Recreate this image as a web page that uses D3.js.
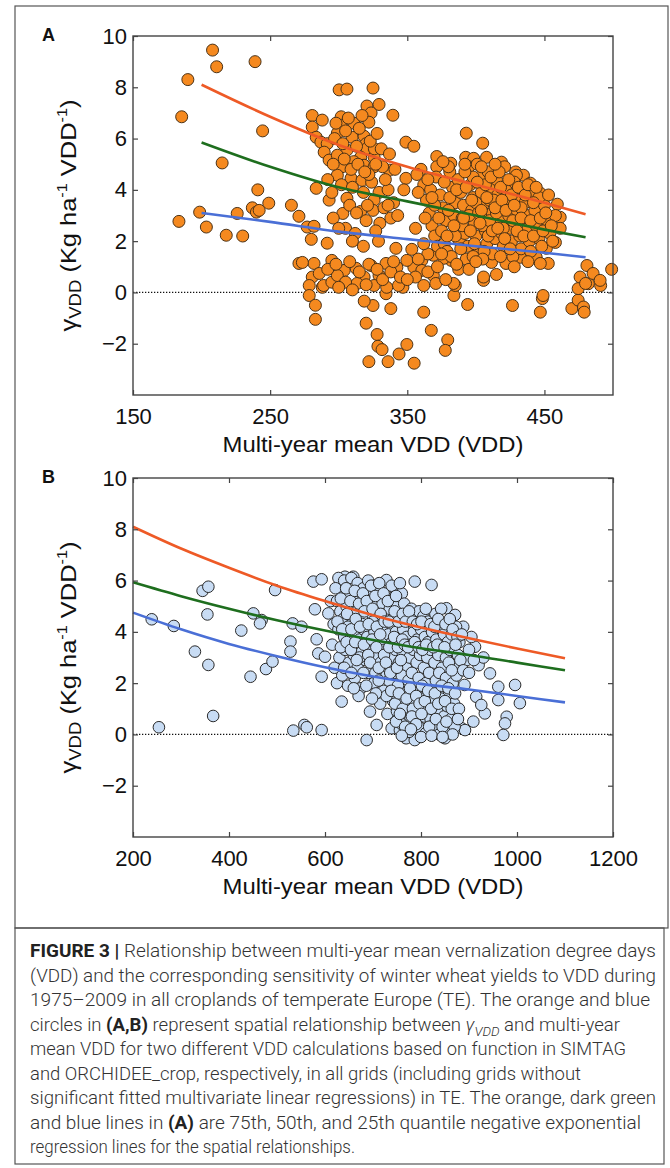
<!DOCTYPE html>
<html><head><meta charset="utf-8">
<script src="https://cdn.jsdelivr.net/npm/d3@7"></script>
<style>body{margin:0;background:#fff}svg{display:block}</style>
</head><body>
<svg id="c" width="670" height="1168"></svg>
<script>
// ---------- DATA ----------
const aXTicks = [150, 250, 350, 450];
const bXTicks = [200, 400, 600, 800, 1000, 1200];
const yTicks = [-2, 0, 2, 4, 6, 8, 10];

// Panel A: [multi-year mean VDD, gamma_VDD]  (SIMTAG, orange circles)
const aPoints = [
[208,9.45],[211,8.8],[190,8.3],[239,9.0],[185.5,6.85],[244.5,6.3],[215,5.05],[183.5,2.77],[198.6,3.13],[203.5,2.55],[218,2.23],[226,3.08],[230,2.2],[241,4.0],[237,3.3],[240,3.13],[242,3.2],[249,3.48],[265.5,3.4],[271,2.97],[277,2.55],[282,2.58],[280,2.07],[291.6,1.92],[283.6,4.06],[280.7,6.9],[288,6.72],[280.7,6.45],[283.6,6.05],[287,5.86],[291.6,5.8],[289.4,5.47],[293,5.16],[271,1.13],[282,1.13],[273.5,1.17],[280.7,0.6],[285.8,0.74],[278.5,0.27],[288,0.2],[278.5,-0.12],[295,1.25],
[283,-0.5],[283,-1.05],[320,-1.2],[328,-1.64],[328.6,-2.1],[331.6,-2.23],[322,-2.7],[336,-2.7],[349.7,-2.03],[344,-2.4],[355,-2.76],[325,-0.51],[338,-0.63],[318.6,-0.34],[334.5,-0.05],[362,-0.77],[367.5,-1.48],[379.5,-1.85],[377.7,-2.26],[384,-0.12],[394,-0.47],[426.7,-0.51],[448.5,-0.24],[447,-0.77],[470,-0.63],[474.6,-0.3],[478.5,-0.57],[479,-0.77],[474.6,0.15],[482,0.34],[491,0.27],[405.6,0.47],[346.8,0.2],[343.6,0.27],[362,0.27],[289,0.27],[295,0.4],[385,0.27],
[300.3,7.9],[306,7.93],[325,7.97],[320.6,7.27],[329.4,7.33],[323.6,7.0],[339.5,6.91],[301.8,6.85],[311,6.6],[301.8,6.52],[322,6.64],[299,6.21],[309.8,6.05],[318.5,6.09],[320,5.8],[320.6,5.61],[306,5.55],[299,5.35],[316,5.27],[325.8,5.27],[349,5.86],[354.8,5.7],[337,4.77],[302.5,4.9],[311,5.1],[318.5,4.96],[325.8,4.9],[299,4.57],[309,4.45],[317,4.37],[324,4.3],[349,4.45],[347.5,4.0],[329.4,3.9],[306,3.67],[325.8,3.6],[303,3.08],[316,3.16],[325,3.2],[330,2.7],[393,6.21],[405,5.82],[371.5,5.3],[381.7,5.04],[418.7,5.08],[371.5,4.9],[392.6,5.27],[398.4,5.23],[407.8,5.27],[429,4.7],[434.7,4.57],[439.8,4.26],[447,3.87],[459.4,3.44],[461.5,2.93],[461.5,2.5],[458,1.95],[451.4,1.72],[452.8,1.13],[444,1.37],[447,1.13],[432.5,1.37],[422,1.13],[411.4,1.17],[405.6,0.6],[387.5,0.9],[383.8,0.35],[382,1.25],[376.6,1.33],[369,1.45],[360.6,1.25],[354.8,0.98],[360.6,0.86],[356,0.6],[369,0.66],[370.8,0.35],[349.7,1.25],[341.7,1.72],[353.3,1.68],[342.4,0.98],[334.5,1.13],[329.4,0.66],[323.6,1.05],[318.5,0.6],[312.7,0.94],[304,0.86],[299,0.66],[313.4,0.35],[325.8,0.27],[335,0.2],[481,1.05],[485.5,0.74],[490.6,0.47],[499,0.9],[476,0.6],[480,0.35],[449,-0.12],[429.6,4.57],
[360,4.8],[362,4.2],[364,3.6],[366,3.1],[368,2.6],[370,2.2],[372,1.8],[365,1.5],[363,2.9],[367,4.0],[371,4.5],[374,3.8],[376,3.3],[378,2.8],[375,2.4],[377,1.9],[379,1.6],[381,4.7],[383,4.1],[385,3.5],[384,3.0],[386,2.5],[388,2.0],[382,1.4],[387,4.4],[389,3.9],[391,3.4],[390,2.9],[392,2.3],[394,1.8],[393,1.3],[395,4.9],[396,4.2],[398,3.7],[397,3.2],[399,2.7],[400,2.2],[402,1.6],[401,5.0],[403,4.5],[404,3.9],[405,3.4],[406,2.9],[407,2.4],[408,1.9],[409,4.7],[411,4.1],[410,3.6],[412,3.1],[413,2.6],[414,2.1],[412,1.5],[415,4.4],[416,3.8],[417,3.3],[418,2.8],[419,2.3],[420,1.8],[421,4.9],[422,4.0],[423,3.5],[424,3.0],[425,2.5],[426,2.0],[427,1.4],[428,4.3],[429,3.7],[430,3.2],[431,2.7],[432,2.2],[433,1.7],[434,4.0],[436,3.5],[437,3.0],[438,2.5],[439,2.0],[440,1.6],[441,3.8],[443,3.2],[444,2.6],[446,2.1],[448,1.8],[450,3.4],[452,2.8],[454,2.3],[456,2.0],[458,3.0],[446,3.7],[380,3.2],[385,2.2],[395,3.0],[400,3.5],[405,2.6],[410,2.8],[415,3.1],[420,2.5],[390,2.6],[398,4.5],[407,4.2],[377,4.3],[392,4.7],[402,3.1],[413,3.6],[418,4.1],[426,3.8],[433,3.3],[370,3.4],[358,3.9],[356,2.5],[362,1.9],[357,4.6],
[365,4.4],[368,3.7],[373,2.9],[375,1.5],[379,2.2],[381,3.7],[384,2.6],[386,4.0],[389,1.7],[391,2.9],[393,4.1],[396,2.4],[397,3.6],[399,1.9],[401,4.3],[403,2.7],[404,3.2],[406,1.6],[408,3.7],[409,2.2],[411,4.5],[412,2.4],[414,3.3],[416,2.5],[417,4.7],[419,3.6],[421,2.1],[422,3.2],[424,4.4],[425,1.7],[427,2.8],[428,3.4],[430,2.4],[431,4.1],[433,2.9],[435,2.2],[436,3.8],[438,4.2],[440,2.8],[442,2.2],[442,3.5],[444,4.1],[447,2.9],[449,2.4],[451,3.1],[453,3.8],[455,2.6],[386,1.1],[398,1.4],[405,1.3],[418,1.4],[428,1.0],[438,1.2],[392,5.0],[404,4.9],[414,5.0],[380,4.9],[376,5.1],
[293,3.6],[296,2.9],[305,2.5],[312,2.3],[320,2.8],[327,2.4],[333,3.3],[338,2.9],[302,4.2],[318,3.9],[322,4.6],[336,4.0],[340,3.5],[297,6.0],[305,6.3],[313,5.7],[315,6.4],[326,5.6],[332,4.9],[296,5.0],[304,5.2],[309,4.8],
[292,4.4],[295,3.9],[298,6.6],[303,5.8],[307,6.8],[310,4.1],[314,5.0],[317,6.9],[319,4.7],[323,5.9],[327,5.0],[328,6.2],[331,5.6],[334,4.4],[337,5.4],[341,4.8],[308,3.4],[313,3.1],[321,3.4],[336,3.4],[343,3.0],[300,2.5],[310,2.0],[318,1.8],[329,2.0],
[292,0.9],[298,1.1],[305,0.4],[308,1.2],[315,0.8],[320,0.3],[322,1.1],[328,0.9],[332,0.5],[338,0.8],[340,1.2],[345,0.6],[300,0.2],[310,0.1],[350,0.5],[358,1.3],[365,0.8],[372,1.0],[378,0.5],[395,0.9],[400,1.2],[415,0.7]
];

// Panel A quantile regression lines, read at VDD = 200..480
const aCurveX  = [200, 250, 300, 350, 400, 450, 480];
const aQ75 = [8.1, 6.85, 5.75, 4.9, 4.2, 3.5, 3.05];
const aQ50 = [5.85, 4.9, 4.1, 3.55, 3.0, 2.45, 2.15];
const aQ25 = [3.1, 2.75, 2.37, 2.08, 1.8, 1.55, 1.37];

// Panel B: [multi-year mean VDD, gamma_VDD]  (ORCHIDEE_crop, blue circles)
const bPoints = [
[239,4.49],[285,4.23],[329,3.23],[357,2.71],[345,5.6],[357,5.76],[355,4.68],[367,0.72],[254,0.28],[425.6,4.05],[444.8,2.25],[450.7,4.72],[468,4.46],[464.6,4.33],[477,2.55],[490.6,2.84],[496,5.63],[532.6,4.33],[551,4.2],[528,3.62],[528,3.23],[534,0.15],[557,0.37],[562,0.28],[593,0.17],[575.7,5.96],[593,6.05],[579,4.88],[582.6,3.71],[586,3.16],[593,2.25],[607,4.72],[600,3.03],
[822,5.83],[787,5.96],[728,6.02],[641.6,6.15],[659,6.15],[853,4.92],[871,4.66],[888,4.2],[912.5,3.42],[943.7,2.38],[961,1.86],[996,1.93],[1006,1.22],[961,1.34],[978.5,0.69],[975,0.43],[971.5,-0.02],[933,0.82],[909,0.5],[884.8,0.24],[915,1.47],[925.6,1.15],[890.6,1.93],[686.8,-0.22],[707.6,0.37],[693.7,0.89],[634.7,1.28],[769,-0.15],[787,-0.22],[850,-0.15],[860.4,0.04],[891.7,0.17],[738.9,0.24],[756,0.17],
[612,5.2],[618,4.3],[615,3.5],[620,2.6],
[628,6.1],[640,6.0],[655,6.1],[668,5.9],[680,5.7],[690,6.0],[702,5.8],[715,5.6],[745,5.7],[760,5.5],[635,5.6],[650,5.5],[672,5.4],[695,5.5],[710,5.3],[740,5.3],
[625,5.2],[632,4.8],[645,5.0],[652,4.6],[660,5.2],[667,4.8],[675,5.0],[683,4.6],[690,5.1],[698,4.7],[705,5.0],[712,4.6],[720,5.1],[727,4.7],[735,4.9],[742,4.5],[750,5.0],[758,4.7],[765,5.1],[772,4.6],[780,4.9],[788,4.5],[796,4.8],[805,4.6],[815,4.4],[830,4.7],[842,4.9],[638,4.5],[658,4.4],[678,4.3],[700,4.4],[718,4.3],[738,4.2],[757,4.3],[777,4.2],
[628,4.1],[640,3.8],[648,4.2],[656,3.6],[665,4.0],[672,3.7],[680,4.1],[688,3.8],[695,3.5],[703,4.0],[710,3.7],[718,4.1],[725,3.6],[732,3.9],[740,3.6],[748,4.0],[755,3.7],[763,4.1],[770,3.8],[778,3.5],[785,4.0],[792,3.7],[800,4.1],[808,3.8],[815,3.6],[823,4.0],[832,3.7],[840,4.2],[848,3.9],[856,3.6],[864,3.9],[873,4.2],[905,3.8],[880,3.6],
[630,3.0],[642,3.3],[650,2.8],[660,3.1],[668,2.6],[676,3.2],[684,2.9],[692,3.3],[700,2.7],[708,3.1],[716,2.8],[724,3.3],[731,2.6],[739,3.0],[747,3.3],[754,2.8],[762,3.2],[769,2.6],[776,3.0],[784,3.3],[791,2.8],[798,3.1],[806,2.6],[813,3.0],[820,3.3],[828,2.8],[836,3.1],[844,2.6],[852,3.0],[860,3.3],[868,2.7],[877,3.1],[895,2.9],[920,2.7],[930,3.0],
[625,2.0],[636,2.3],[648,1.9],[662,2.2],[675,1.8],[690,2.4],[702,2.0],[714,2.3],[722,1.7],[733,2.1],[744,2.4],[752,1.9],[760,2.3],[767,1.6],[774,2.1],[781,2.4],[788,1.8],[795,2.2],[803,1.6],[810,2.0],[817,2.4],[824,1.7],[831,2.1],[838,2.4],[845,1.8],[852,2.2],[859,1.6],[866,2.0],[874,2.3],
[715,1.2],[730,0.8],[742,1.3],[750,0.9],[757,1.4],[764,0.7],[771,1.1],[778,0.6],[785,1.3],[792,0.9],[799,1.4],[806,0.7],[813,1.1],[820,0.6],[827,1.3],[834,0.9],[841,1.4],[848,0.7],[855,1.1],[862,0.6],[869,1.2],
[760,0.4],[775,0.1],[795,0.3],[810,0.05],[825,0.35],[838,0.0],[870,0.3],
[622,5.7],[633,5.3],[644,5.7],[653,5.2],[662,5.6],[671,5.1],[679,5.5],[687,5.2],[696,5.8],[705,5.4],[713,5.9],[722,5.5],[731,5.2],[739,5.8],[748,5.4],[756,5.9],[626,4.4],[636,4.1],[646,4.7],[655,4.1],[664,4.5],[673,4.2],[682,4.8],[691,4.3],[699,4.9],[708,4.2],[716,4.7],[724,4.4],[733,4.4],[745,4.8],[753,4.4],[762,4.7],[633,3.4],[645,3.6],[654,3.3],[663,3.6],[672,3.0],[681,3.5],[690,3.1],[698,3.7],[707,3.4],[715,3.9],[723,3.1],[734,3.4],[744,3.8],[752,3.4],[761,3.7],[768,4.4],[775,4.8],[783,4.4],[792,4.3],[801,4.4],[810,4.9],[820,4.3],[828,4.2],[836,4.5],[851,4.3],[860,4.5],[866,4.1],[876,3.8],[885,3.9],
[640,2.6],[655,2.4],[666,2.9],[680,2.4],[694,2.8],[705,2.4],[712,2.6],[727,2.8],[736,2.4],[750,2.6],[758,2.9],[766,3.5],[773,3.4],[787,3.6],[795,3.4],[803,3.3],[811,3.5],[826,3.4],[834,3.5],[849,3.4],[858,2.8],[864,2.5],[872,3.5],[882,2.9],[888,2.5],[900,2.4],[900,3.3],[910,2.9],
[728,1.5],[738,1.7],[746,1.2],[754,1.6],[762,1.0],[770,1.4],[777,1.8],[783,1.0],[790,1.5],[797,1.2],[802,1.9],[808,1.3],[815,1.7],[821,1.0],[829,1.6],[836,1.2],[843,1.9],[850,1.3],[857,1.8],[864,1.0],[871,1.6],[879,1.0],[748,0.5],[756,0.8],[767,0.3],[781,0.7],[790,0.4],[801,0.8],[817,0.3],[831,0.6],[845,0.3],[853,0.5],[866,0.0],[877,0.6],[760,-0.05],[800,-0.1],[822,-0.05],[845,-0.1],[779,0.2],[706,1.6],[712,2.1],[698,1.4],[686,1.9],[670,1.5],[660,1.8]
];

// Panel B quantile regression lines, read at VDD = 200..1100
const bCurveX = [200, 300, 400, 500, 600, 700, 800, 900, 1000, 1100];
const bQ75 = [8.1, 7.25, 6.5, 5.8, 5.2, 4.65, 4.17, 3.75, 3.35, 2.97];
const bQ50 = [5.93, 5.39, 4.9, 4.45, 4.05, 3.68, 3.36, 3.1, 2.8, 2.5];
const bQ25 = [4.75, 4.1, 3.53, 3.05, 2.62, 2.26, 1.97, 1.75, 1.5, 1.25];

// ---------- DRAW ----------
const svg = d3.select("#c");
svg.append("rect").attr("width", 670).attr("height", 1168).attr("fill", "#fff");

// frames
svg.append("rect").attr("x", 15).attr("y", 6).attr("width", 653).attr("height", 922)
  .attr("fill", "none").attr("stroke", "#555").attr("stroke-width", 1.2);
svg.append("rect").attr("x", 15).attr("y", 928).attr("width", 649).attr("height", 236)
  .attr("fill", "none").attr("stroke", "#555").attr("stroke-width", 1.2);

const FONT = "'Liberation Sans', Arial, Helvetica, sans-serif";
const lineColors = {q75: "#ee5a26", q50: "#1e6e1e", q25: "#4a6fd6"};

function drawPanel(cfg) {
  const x = d3.scaleLinear().domain(cfg.xDomain).range([133, 613]);
  const y = d3.scaleLinear().domain([-4, 10]).range([cfg.bottom, cfg.top]);
  const g = svg.append("g");

  // zero line
  g.append("line").attr("x1", x.range()[0]).attr("x2", x.range()[1])
    .attr("y1", y(0)).attr("y2", y(0))
    .attr("stroke", "#111").attr("stroke-width", 1.2).attr("stroke-dasharray", "1.3,1.7");

  // points
  g.append("g").selectAll("circle").data(cfg.points).join("circle")
    .attr("cx", d => x(d[0])).attr("cy", d => y(d[1])).attr("r", cfg.r)
    .attr("fill", cfg.fill).attr("stroke", cfg.stroke).attr("stroke-width", 1);

  // curves
  const line = d3.line().x(d => x(d[0])).y(d => y(d[1])).curve(d3.curveMonotoneX);
  [["q75", cfg.q75], ["q50", cfg.q50], ["q25", cfg.q25]].forEach(([k, vals]) => {
    g.append("path").datum(cfg.cx.map((v, i) => [v, vals[i]]))
      .attr("d", line).attr("fill", "none").attr("stroke", lineColors[k]).attr("stroke-width", 2.6);
  });

  // axes
  const axStyle = sel => {
    sel.select(".domain").remove();
    sel.selectAll(".tick line").attr("stroke", "#444").attr("stroke-width", 1.2);
    sel.selectAll(".tick text").attr("font-family", FONT).attr("font-size", 22).attr("fill", "#111");
  };
  g.append("g").attr("transform", `translate(0,${cfg.bottom})`)
    .call(d3.axisBottom(x).tickValues(cfg.xTicks).tickSizeInner(-5).tickSizeOuter(0).tickPadding(13.4).tickFormat(d3.format("d")))
    .call(axStyle);
  g.append("g").attr("transform", `translate(0,${cfg.top})`)
    .call(d3.axisTop(x).tickValues(cfg.xTicks).tickSizeInner(-5).tickSizeOuter(0).tickFormat(""))
    .call(axStyle);
  g.append("g").attr("transform", `translate(133,0)`)
    .call(d3.axisLeft(y).tickValues(yTicks).tickSizeInner(-5).tickSizeOuter(0).tickPadding(6).tickFormat(d3.format("d")))
    .call(axStyle);
  g.append("g").attr("transform", `translate(613,0)`)
    .call(d3.axisRight(y).tickValues(yTicks).tickSizeInner(-5).tickSizeOuter(0).tickFormat(""))
    .call(axStyle);

  // frame
  g.append("rect").attr("x", 133).attr("y", cfg.top).attr("width", 480).attr("height", cfg.bottom - cfg.top)
    .attr("fill", "none").attr("stroke", "#444").attr("stroke-width", 1.4);

  // panel letter
  g.append("text").attr("x", 42).attr("y", cfg.top + 5).text(cfg.letter)
    .attr("font-family", FONT).attr("font-weight", "bold").attr("font-size", 18).attr("fill", "#111");

  // x title
  g.append("text").attr("x", 373).attr("y", cfg.bottom + 57).attr("text-anchor", "middle")
    .attr("font-family", FONT).attr("font-size", 22).attr("fill", "#111")
    .attr("textLength", 301).attr("lengthAdjust", "spacingAndGlyphs")
    .text("Multi-year mean VDD (VDD)");

  // y title
  const cy = (cfg.top + cfg.bottom) / 2;
  const yt = g.append("text").attr("transform", `translate(76,${cy}) rotate(-90)`)
    .attr("text-anchor", "middle").attr("font-family", FONT).attr("font-size", 22).attr("fill", "#111")
    .attr("textLength", 232).attr("lengthAdjust", "spacingAndGlyphs");
  yt.append("tspan").text("γ");
  yt.append("tspan").attr("font-size", 16).attr("dy", 5).text("VDD");
  yt.append("tspan").attr("dy", -5).text(" (Kg ha");
  yt.append("tspan").attr("font-size", 14).attr("dy", -9).text("-1");
  yt.append("tspan").attr("dy", 9).text(" VDD");
  yt.append("tspan").attr("font-size", 14).attr("dy", -9).text("-1");
  yt.append("tspan").attr("dy", 9).text(")");
}

drawPanel({letter: "A", xDomain: [150, 500], xTicks: aXTicks, top: 36, bottom: 395,
  points: aPoints, r: 6, fill: "#f5891f", stroke: "#4b3216",
  cx: aCurveX, q75: aQ75, q50: aQ50, q25: aQ25});
drawPanel({letter: "B", xDomain: [200, 1200], xTicks: bXTicks, top: 478, bottom: 837,
  points: bPoints, r: 5.8, fill: "#c8dcf4", stroke: "#2a2a2a",
  cx: bCurveX, q75: bQ75, q50: bQ50, q25: bQ25});

// ---------- CAPTION ----------
const captionLines = [
  [["b", "FIGURE 3 |"], ["n", " Relationship between multi-year mean vernalization degree days"]],
  [["n", "(VDD) and the corresponding sensitivity of winter wheat yields to VDD during"]],
  [["n", "1975–2009 in all croplands of temperate Europe (TE). The orange and blue"]],
  [["n", "circles in "], ["b", "(A,B)"], ["n", " represent spatial relationship between "], ["i", "γ"], ["sub", "VDD"], ["up", " and multi-year"]],
  [["n", "mean VDD for two different VDD calculations based on function in SIMTAG"]],
  [["n", "and ORCHIDEE_crop, respectively, in all grids (including grids without"]],
  [["n", "significant fitted multivariate linear regressions) in TE. The orange, dark green"]],
  [["n", "and blue lines in "], ["b", "(A)"], ["n", " are 75th, 50th, and 25th quantile negative exponential"]],
  [["n", "regression lines for the spatial relationships."]]
];
const captionWidths = [626, 626, 620, 590, 596, 551, 626, 611, 325];
const CFONT = "'Roboto', 'Liberation Sans', Arial, sans-serif";
captionLines.forEach((parts, i) => {
  const t = svg.append("text").attr("x", 30).attr("y", 957 + i * 24.5)
    .attr("font-family", CFONT).attr("font-size", 18).attr("font-weight", 300).attr("fill", "#333")
    .attr("textLength", captionWidths[i]).attr("lengthAdjust", "spacingAndGlyphs");
  parts.forEach(([k, s]) => {
    const ts = t.append("tspan").text(s);
    if (k === "b") ts.attr("font-weight", "bold").attr("fill", "#222");
    if (k === "i") ts.attr("font-style", "italic");
    if (k === "sub") ts.attr("font-style", "italic").attr("font-size", 13).attr("dy", 5);
    if (k === "up") ts.attr("dy", -5);
  });
});
</script>
</body></html>
